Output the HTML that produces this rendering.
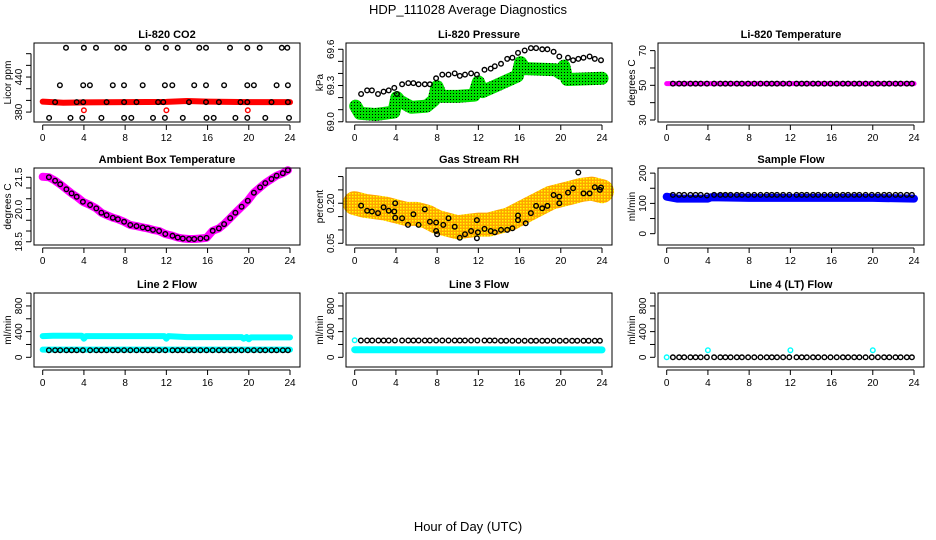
<!DOCTYPE html>
<html><head><meta charset="utf-8"><style>
body{margin:0;background:#fff}
svg{display:block}
text{font-family:"Liberation Sans",sans-serif;fill:#000}
</style></head><body>
<svg id="chart" width="936" height="540" viewBox="0 0 936 540" xmlns="http://www.w3.org/2000/svg">
<defs>
<pattern id="pgreen" width="3" height="3" patternUnits="userSpaceOnUse"><rect width="3" height="3" fill="#00e000"/><rect width="1" height="1" fill="#000"/></pattern>
<pattern id="porange" width="3" height="3" patternUnits="userSpaceOnUse"><rect width="3" height="3" fill="#ffa500"/><rect x="1" y="1" width="1.5" height="1.5" fill="#ff0"/></pattern>
</defs>
<text x="468" y="14" text-anchor="middle" font-size="13">HDP_111028  Average Diagnostics</text>
<text x="468" y="531" text-anchor="middle" font-size="13">Hour of Day (UTC)</text>
</svg>
<script>
// shared hour list for hourly-average black points
const HOURS_A=[0.6,1.2,1.7,2.3,2.8,3.3,3.9,4.6,5.2,5.7,6.2,6.8,7.3,7.9,8.5,9.1,9.7,10.2,10.7,11.3,11.9,12.6,13.1,13.6,14.2,14.7,15.3,15.9,16.5,17.1,17.6,18.2,18.7,19.3,19.9,20.5,21.1,21.6,22.2,22.7,23.3,23.8];
const X_TICKS=[0,4,8,12,16,20,24];
// CO2
const co2H=[2.26,4.0,5.17,7.24,7.89,10.2,11.96,13.1,15.2,15.85,18.18,19.86,21.06,23.2,23.74,1.67,3.93,4.58,6.8,7.89,9.7,11.86,12.58,14.7,15.85,17.6,19.86,20.5,22.7,23.8,1.2,3.3,3.93,6.2,7.9,9.1,11.2,11.7,14.2,15.85,17.1,19.2,19.86,22.2,23.8,0.62,2.7,3.84,5.7,7.9,8.6,10.7,11.86,13.6,15.9,16.6,18.7,19.86,21.6,23.9];
const co2V=[490,490,490,490,490,490,490,490,490,490,490,490,490,490,490,426,426,426,426,426,426,426,426,426,426,426,426,426,426,426,397,397,397,397,397,397,397,397,397,397,397,397,397,397,397,370,370,370,370,370,370,370,370,370,370,370,370,370,370,370];
const co2BandH=[0,2,4,8,12,14,16,20,24];
const co2BandV=[398,396,396.5,397,397.5,399,398,397,397];
const co2RedH=[4.0,12.0,19.9];
const co2RedV=[383,383,383];
// Pressure
const presH=[0.62,1.2,1.67,2.26,2.8,3.3,3.84,4.1,4.6,5.2,5.7,6.2,6.8,7.3,7.9,8.5,9.1,9.7,10.2,10.7,11.3,11.86,12.6,13.2,13.6,14.2,14.8,15.3,15.85,16.5,17.1,17.6,18.2,18.7,19.3,19.86,20.7,21.2,21.7,22.2,22.8,23.3,23.9];
const presV=[69.23,69.26,69.26,69.23,69.25,69.26,69.28,69.23,69.31,69.32,69.32,69.31,69.31,69.31,69.36,69.39,69.39,69.40,69.38,69.39,69.40,69.39,69.43,69.44,69.46,69.48,69.52,69.53,69.57,69.59,69.61,69.61,69.60,69.60,69.58,69.54,69.53,69.51,69.52,69.53,69.54,69.52,69.51];
const presBandH=[0.1,0.5,2,3.8,4.1,4.4,5.5,7,7.7,8.0,8.4,10,11.6,12.0,12.4,14,15.8,16.1,16.5,19.5,20,20.3,20.6,24];
const presBandV=[69.13,69.07,69.06,69.08,69.2,69.17,69.12,69.13,69.18,69.29,69.21,69.21,69.22,69.33,69.25,69.31,69.38,69.49,69.44,69.43,69.40,69.46,69.35,69.36];
// Li-820 temperature
const tempV=[51,51,51,51,51,51,51,51,51,51,51,51,51,51,51,51,51,51,51,51,51,51,51,51,51,51,51,51,51,51,51,51,51,51,51,51,51,51,51,51,51,51];
const tempBandH=[0,24];
const tempBandV=[51,51];
// Ambient box temperature
const ambV=[21.5,21.34,21.17,20.94,20.75,20.59,20.36,20.21,20.05,19.85,19.74,19.62,19.55,19.43,19.28,19.23,19.17,19.12,19.05,19.0,18.86,18.78,18.70,18.65,18.63,18.63,18.65,18.68,19.01,19.12,19.32,19.60,19.85,20.13,20.41,20.78,21.03,21.23,21.42,21.57,21.69,21.83];
const ambBandH=[0,0.6,1.2,1.7,2.3,2.8,3.3,3.9,4.6,5.2,5.7,6.2,6.8,7.3,7.9,8.5,9.1,9.7,10.2,10.7,11.3,11.9,12.6,13.1,13.6,14.2,14.7,15.3,15.9,16.5,17.1,17.6,18.2,18.7,19.3,19.9,20.5,21.1,21.6,22.2,22.7,23.3,23.8];
const ambBandV=[21.52,21.5,21.34,21.17,20.94,20.75,20.59,20.36,20.21,20.05,19.85,19.74,19.62,19.55,19.43,19.28,19.23,19.17,19.12,19.05,19.0,18.86,18.78,18.70,18.65,18.63,18.63,18.65,18.68,19.01,19.12,19.32,19.60,19.85,20.13,20.41,20.78,21.03,21.23,21.42,21.57,21.69,21.83];
// Gas stream RH
const rhH=[0.62,1.2,1.67,2.26,2.8,3.3,3.84,3.93,3.93,4.6,5.17,5.7,6.2,6.8,7.3,7.9,7.9,8.0,8.6,9.1,9.7,10.2,10.7,11.3,11.86,11.96,11.86,12.6,13.2,13.6,14.2,14.8,15.3,15.85,15.85,16.6,17.1,17.6,18.2,18.7,19.3,19.86,19.86,20.7,21.2,21.7,22.2,22.8,23.3,23.8,23.9];
const rhV=[0.191,0.172,0.169,0.163,0.185,0.172,0.169,0.2,0.146,0.144,0.119,0.159,0.119,0.177,0.131,0.128,0.096,0.084,0.119,0.144,0.112,0.071,0.084,0.096,0.137,0.091,0.069,0.104,0.096,0.091,0.1,0.1,0.106,0.154,0.137,0.125,0.163,0.19,0.181,0.19,0.231,0.225,0.2,0.24,0.256,0.315,0.237,0.237,0.26,0.25,0.259];
const rhBandH=[0,1,2,3,4,5,6,7,8,9,10,11,12,13,14,15,16,17,18,19,20,21,22,23,24];
const rhBandV=[0.2,0.19,0.185,0.18,0.17,0.16,0.16,0.15,0.13,0.12,0.11,0.115,0.12,0.12,0.13,0.14,0.16,0.18,0.2,0.22,0.23,0.24,0.25,0.255,0.245];
// Sample flow
const sfV=[128,128,128,128,128,128,126,128,128,128,128,128,128,128,128,128,128,128,128,128,128,128,128,128,128,128,128,128,128,128,128,128,128,128,128,128,128,128,128,128,128,128];
const sfBandH=[0,1,4,4.3,8,12,20,24];
const sfBandV=[122,116,116,120,118,118,118,116];
// Line 2 flow
const l2V=[110,110,110,110,110,110,110,110,110,110,110,110,110,110,110,110,110,110,110,110,110,110,110,110,110,110,110,110,110,110,110,110,110,110,110,110,110,110,110,110,110,110];
const l2UpH=[0,1,3.8,4,4.2,8,11.8,12,12.2,14,19.3,19.5,19.8,20,20.2,24];
const l2UpV=[330,335,335,290,330,330,330,290,330,315,315,290,315,280,310,310];
const l2LowH=[0,24];
const l2LowV=[120,120];
// Line 3 flow
const l3V=[262,262,262,262,262,262,262,262,262,262,262,262,262,262,262,262,262,262,262,262,262,262,262,262,258,258,258,258,258,258,258,258,258,258,258,258,258,258,258,258,258,258];
const l3LowH=[0,24];
const l3LowV=[118,115];
const l3PtH=[0];
const l3PtV=[265];
// Line 4 flow
const l4V=[0,0,0,0,0,0,0,0,0,0,0,0,0,0,0,0,0,0,0,0,0,0,0,0,0,0,0,0,0,0,0,0,0,0,0,0,0,0,0,0,0,0];
const l4PtH=[0,4,12,20];
const l4PtV=[0,110,110,110];

const svg=document.getElementById('chart');
const NS='http://www.w3.org/2000/svg';
function mk(tag,attrs,parent){const e=document.createElementNS(NS,tag);for(const k in attrs)e.setAttribute(k,attrs[k]);(parent||svg).appendChild(e);return e;}

const colX=[0,312,624];
const rowTop=[43,168,293], rowBot=[122,245,367];
const panels=[
 {name:'co2',title:'Li-820 CO2',ylab:'Licor ppm',c:0,r:0,ylim:[363,498.3],ticks:[380,400,420,440,460,480],labels:[380,440],
  bands:[[co2BandH,co2BandV,'#ff0000',6]],pts:[[co2H,co2V,'#000'],[co2RedH,co2RedV,'#ff0000']]},
 {name:'pressure',title:'Li-820 Pressure',ylab:'kPa',c:1,r:0,ylim:[68.998,69.652],ticks:[69.0,69.1,69.2,69.3,69.4,69.5,69.6],labels:[69.0,69.3,69.6],fmt:1,
  bands:[[presBandH,presBandV,'url(#pgreen)',13]],pts:[[presH,presV,'#000']]},
 {name:'li820-temp',title:'Li-820 Temperature',ylab:'degrees C',c:2,r:0,ylim:[28.85,74.4],ticks:[30,40,50,60,70],labels:[30,50,70],
  bands:[[tempBandH,tempBandV,'#ff00ff',5]],pts:[[HOURS_A,tempV,'#000']]},
 {name:'ambient-temp',title:'Ambient Box Temperature',ylab:'degrees C',c:0,r:1,ylim:[18.35,21.93],ticks:[18.5,19,19.5,20,20.5,21,21.5],labels:[18.5,20.0,21.5],fmt:1,
  bands:[[ambBandH,ambBandV,'#ff00ff',8]],pts:[[HOURS_A,ambV,'#000']]},
 {name:'rh',title:'Gas Stream RH',ylab:'percent',c:1,r:1,ylim:[0.0436,0.332],ticks:[0.05,0.1,0.15,0.2,0.25,0.3],labels:[0.05,0.20],fmt:2,
  bands:[[rhBandH,rhBandV,'url(#porange)',24]],pts:[[rhH,rhV,'#000']]},
 {name:'sample-flow',title:'Sample Flow',ylab:'ml/min',c:2,r:1,ylim:[-37.4,216.9],ticks:[0,50,100,150,200],labels:[0,100,200],
  bands:[[sfBandH,sfBandV,'#0000ff',8]],pts:[[HOURS_A,sfV,'#000']]},
 {name:'line2-flow',title:'Line 2 Flow',ylab:'ml/min',c:0,r:2,ylim:[-151,1001.6],ticks:[0,200,400,600,800,1000],labels:[0,400,800],
  bands:[[l2UpH,l2UpV,'#00ffff',6],[l2LowH,l2LowV,'#00ffff',6]],pts:[[HOURS_A,l2V,'#000']]},
 {name:'line3-flow',title:'Line 3 Flow',ylab:'ml/min',c:1,r:2,ylim:[-151,1001.6],ticks:[0,200,400,600,800,1000],labels:[0,400,800],
  bands:[[l3LowH,l3LowV,'#00ffff',7]],pts:[[l3PtH,l3PtV,'#00ffff'],[HOURS_A,l3V,'#000']]},
 {name:'line4-flow',title:'Line 4 (LT) Flow',ylab:'ml/min',c:2,r:2,ylim:[-151,1001.6],ticks:[0,200,400,600,800,1000],labels:[0,400,800],
  bands:[],pts:[[l4PtH,l4PtV,'#00ffff'],[HOURS_A,l4V,'#000']]}
];

panels.forEach(p=>{
  const ox=colX[p.c], top=rowTop[p.r], bot=rowBot[p.r];
  const left=ox+34, right=ox+300;
  const xs=h=>ox+42.7+h*(247.3/24);
  const ys=v=>bot-(v-p.ylim[0])/(p.ylim[1]-p.ylim[0])*(bot-top);
  const g=mk('g',{});
  
  
  const t=mk('text',{x:(left+right)/2,y:top-5,'text-anchor':'middle','font-size':'11','font-weight':'bold'},g);
  t.textContent=p.title;
  
  
  const cg=mk('g',{},g);
  
  
  p.bands.forEach(b=>{
    const pts=b[0].map((h,i)=>xs(h).toFixed(1)+','+ys(b[1][i]).toFixed(1)).join(' ');
    const pl=mk('polyline',{points:pts,fill:'none',stroke:b[2],'stroke-width':b[3],'stroke-linejoin':'round','stroke-linecap':'round'},cg);
    
    
  });
  p.pts.forEach(s=>{
    s[0].forEach((h,i)=>{
      const c=mk('circle',{cx:xs(h).toFixed(1),cy:ys(s[1][i]).toFixed(1),r:2.3,fill:'none',stroke:s[2],'stroke-width':1.4},cg);
      
      
    });
  });
  const box=mk('rect',{x:left,y:top,width:right-left,height:bot-top,fill:'none',stroke:'#000','stroke-width':1},g);
  
  
  const xa=mk('g',{stroke:'#000','stroke-width':1},g);
  
  
  mk('line',{x1:xs(0),x2:xs(24),y1:bot+3,y2:bot+3},xa);
  X_TICKS.forEach(h=>{
    mk('line',{x1:xs(h),x2:xs(h),y1:bot+3,y2:bot+8},xa);
    const tl=mk('text',{x:xs(h),y:bot+19,'text-anchor':'middle','font-size':'10',stroke:'none'},xa);
    tl.textContent=h;
  });
  const ya=mk('g',{stroke:'#000','stroke-width':1},g);
  
  
  mk('line',{x1:left-3,x2:left-3,y1:ys(p.ticks[0]),y2:ys(p.ticks[p.ticks.length-1])},ya);
  p.ticks.forEach(v=>mk('line',{x1:left-3,x2:left-8,y1:ys(v),y2:ys(v)},ya));
  p.labels.forEach(v=>{
    const x=left-12,y=ys(v);
    const tl=mk('text',{x:x,y:y,'text-anchor':'middle','font-size':'10',stroke:'none',transform:`rotate(-90 ${x} ${y})`},ya);
    tl.textContent=p.fmt?v.toFixed(p.fmt):v;
  });
  const yl=mk('text',{x:ox+11,y:(top+bot)/2,'text-anchor':'middle','font-size':'10',transform:`rotate(-90 ${ox+11} ${(top+bot)/2})`},g);
  yl.textContent=p.ylab;
  
  
});
</script>
</body></html>
